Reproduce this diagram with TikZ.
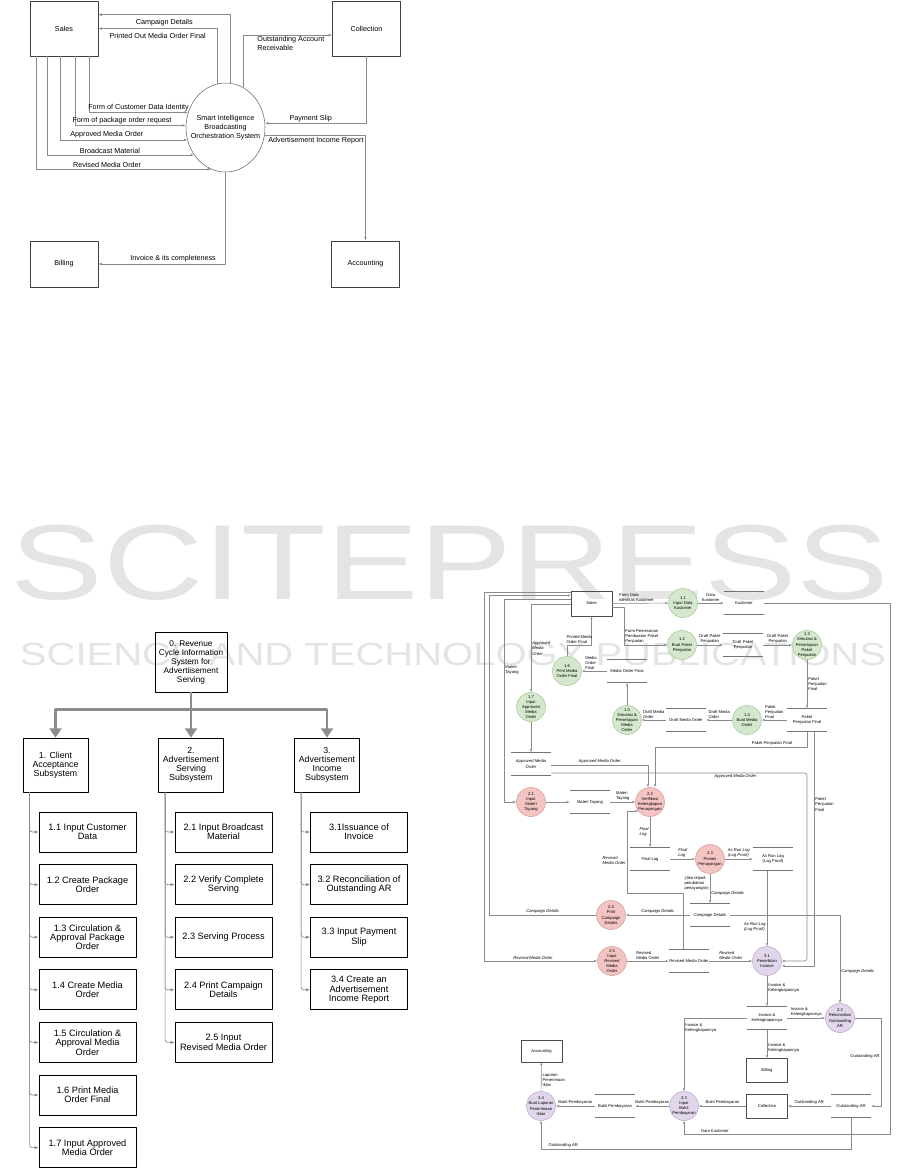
\documentclass[tikz,border=0pt]{standalone}
\usepackage{fontspec}
\setmainfont{Liberation Sans}
\usetikzlibrary{arrows.meta,calc,shapes.geometric}

\definecolor{lngray}{HTML}{8A8A8A}
\definecolor{arrgray}{HTML}{8C8C8C}
\definecolor{grnfill}{HTML}{D3E8CC}
\definecolor{grnline}{HTML}{A6C79B}
\definecolor{redfill}{HTML}{F4C4C2}
\definecolor{redline}{HTML}{D39C99}
\definecolor{purfill}{HTML}{E1D6EC}
\definecolor{purline}{HTML}{B8A8CB}
\definecolor{wmgray}{HTML}{E4E4E4}

\newcommand{\ctxfont}{\fontsize{5.4}{6.75}\selectfont}
\newcommand{\dfdfont}{\fontsize{3.1}{3.9}\selectfont}
\newcommand{\dfdit}{\fontsize{3.1}{3.9}\selectfont\itshape}

\tikzset{
  ctxbox/.style={draw=black!75, line width=0.5pt, minimum width=51pt, minimum height=41.25pt, font=\ctxfont},
  sysell/.style={ellipse, draw=black!60, line width=0.4pt, minimum width=59.25pt, minimum height=66.75pt, inner sep=0pt},
  ctxflow/.style={draw=lngray, line width=0.5pt, -{Latex[length=2.6pt,width=2pt]}},
  clbl/.style={font=\ctxfont, inner sep=1pt},
  hroot/.style={draw, line width=0.6pt, minimum width=54pt, minimum height=45pt, align=center, inner sep=1pt, font=\fontsize{6.2}{6.75}\selectfont},
  hsub/.style={draw, line width=0.6pt, minimum width=48.75pt, minimum height=40.5pt, align=center, inner sep=1pt, font=\fontsize{6.6}{6.9}\selectfont},
  hleaf/.style={draw, line width=0.6pt, minimum width=72.75pt, minimum height=30pt, align=center, inner sep=1pt, font=\fontsize{6.9}{7}\selectfont},
  bigarr/.style={draw=arrgray, line width=2.2pt, -{Triangle[length=7pt,width=9pt]}},
  branch/.style={draw=lngray, line width=0.5pt, rounded corners=2pt, -{Latex[length=3pt,width=2.4pt]}},
  proc1/.style={circle, draw=grnline, fill=grnfill, line width=0.4pt, minimum size=21.75pt, inner sep=0pt},
  proc2/.style={proc1, draw=redline, fill=redfill},
  proc3/.style={proc1, draw=purline, fill=purfill},
  ptxt/.style={font=\dfdfont, align=center, inner sep=0pt},
  store/.style={minimum width=30pt, minimum height=17.25pt, inner sep=0pt, font=\dfdfont, align=center},
  storeln/.style={draw=black!55, line width=0.45pt},
  dent/.style={draw=black!70, line width=0.45pt, minimum width=30.75pt, minimum height=18pt, inner sep=0pt, font=\dfdfont},
  dflow/.style={draw=lngray, line width=0.45pt, -{Latex[length=2.2pt,width=1.8pt]}},
  dlbl/.style={font=\dfdfont, inner sep=0.8pt, align=center},
  wm/.style={text=wmgray, inner sep=0pt}
}

\begin{document}
\begin{tikzpicture}[x=0.75pt,y=-0.75pt,line join=bevel]
\useasboundingbox (0,0) rectangle (901,1168);
%% watermark
\node[wm, font=\fontsize{80}{80}\selectfont, xscale=1.3] (wmtitle) at (450,563) {SCITEPRESS};
\node[wm, font=\fontsize{24}{24}\selectfont, xscale=1.25] (wmsub) at (453,654) {SCIENCE AND TECHNOLOGY PUBLICATIONS};
%%
%% context diagram
  % Node: sales
  \node[ctxbox] (sales) at (64,28.5) {Sales};
  % Node: coll
  \node[ctxbox] (coll) at (366.5,28.5) {Collection};
  % Node: bill
  \node[ctxbox, minimum height=34.5pt] (bill) at (64,264) {Billing};
  % Node: acct
  \node[ctxbox, minimum height=34.5pt] (acct) at (365.5,264) {Accounting};
  % Node: sys
  \node[sysell, label={[clbl, align=center]center:{Smart Intelligence\\Broadcasting\\Orchestration System}}] (sys) at (225.5,127.5) {};
  % Edge: sys -> sales
  \draw[ctxflow] (sys.84.2) |- node[clbl, pos=0.75, below, yshift=-2pt] {Campaign Details} ($(sales.north east)+(0,14)$);
  \draw[ctxflow] (sys.101.1) |- node[clbl, pos=0.75, below, yshift=-2pt] {Printed Out Media Order Final} (sales.east);
  % Edge: sys -> coll
  \draw[ctxflow] (sys.66.3) |- node[clbl, pos=0.57, anchor=north west, align=left] {Outstanding Account\\Receivable} ($(coll.west)+(0,6.5)$);
  % Edge: coll -> sys
  \draw[ctxflow] (coll.south) |- node[clbl, pos=0.775, above] {Payment Slip} (sys.6.5);
  % Edge: sys -> acct
  \draw[ctxflow] (sys.349.1) -| node[clbl, pos=0.01, anchor=north west] {Advertisement Income Report} (acct.north);
  % Edge: sys -> bill
  \draw[ctxflow] (sys.south) |- node[clbl, pos=0.706, above] {Invoice \& its completeness} (bill.east);
  % Edge: sales -> sys
  \draw[ctxflow] ($(sales.south)+(25,0)$) |- node[clbl, pos=0.75, above] {Form of Customer Data Identity} (sys.158.8);
  \draw[ctxflow] ($(sales.south)+(11,0)$) |- node[clbl, pos=0.712, above] {Form of package order request} (sys.177.8);
  \draw[ctxflow] ($(sales.south)+(-4,0)$) |- node[clbl, pos=0.684, above] {Approved Media Order} (sys.198.3);
  \draw[ctxflow] ($(sales.south)+(-17,0)$) |- node[clbl, pos=0.714, above] {Broadcast Material} (sys.221.5);
  \draw[ctxflow] ($(sales.south)+(-28,0)$) |- node[clbl, pos=0.703, above] {Revised Media Order} (sys.251);
%%
%% hierarchy chart
  % Node: root
  \node[hroot] (root) at (191,662) {0. Revenue\\Cycle Information\\System for\\Advertiisement\\Serving};
  % Node: s1, s2, s3
  \node[hsub] (s1) at (55.5,765) {1. Client\\Acceptance\\Subsystem};
  \node[hsub] (s2) at (191,765) {2.\\Advertisement\\Serving\\Subsystem};
  \node[hsub] (s3) at (327,765) {3.\\Advertisement\\Income\\Subsystem};
  % Edge: root -> s1, s2, s3
  \draw[bigarr] (root.south) -- ++(0,17) -| (s1.north);
  \draw[bigarr] (root.south) -- (s2.north);
  \draw[bigarr] (root.south) -- ++(0,17) -| (s3.north);
  % Node: leaves of s1
  \node[hleaf] (l11) at (87.5,832) {1.1 Input Customer\\Data};
  \node[hleaf] (l12) at (87.5,884.6) {1.2 Create Package\\Order};
  \node[hleaf] (l13) at (87.5,937.2) {1.3 Circulation \&\\Approval Package\\Order};
  \node[hleaf] (l14) at (87.5,989.8) {1.4 Create Media\\Order};
  \node[hleaf] (l15) at (87.5,1042.4) {1.5 Circulation \&\\Approval Media\\Order};
  \node[hleaf] (l16) at (87.5,1095) {1.6 Print Media\\Order Final};
  \node[hleaf] (l17) at (87.5,1147.6) {1.7 Input Approved\\Media Order};
  % Node: leaves of s2
  \node[hleaf] (l21) at (223.5,832) {2.1 Input Broadcast\\Material};
  \node[hleaf] (l22) at (223.5,884.6) {2.2 Verify Complete\\Serving};
  \node[hleaf] (l23) at (223.5,937.2) {2.3 Serving Process};
  \node[hleaf] (l24) at (223.5,989.8) {2.4 Print Campaign\\Details};
  \node[hleaf] (l25) at (223.5,1042.4) {2.5 Input\\Revised Media Order};
  % Node: leaves of s3
  \node[hleaf] (l31) at (359,832) {3.1Issuance of\\Invoice};
  \node[hleaf] (l32) at (359,884.6) {3.2 Reconciliation of\\Outstanding AR};
  \node[hleaf] (l33) at (359,937.2) {3.3 Input Payment\\Slip};
  \node[hleaf] (l34) at (359,989.8) {3.4 Create an\\Advertisement\\Income Report};
  % Edge: s -> leaves
  \foreach \k in {1,...,7} \draw[branch] ($(s1.south west)+(7,0)$) |- (l1\k.west);
  \foreach \k in {1,...,5} \draw[branch] ($(s2.south west)+(7,0)$) |- (l2\k.west);
  \foreach \k in {1,...,4} \draw[branch] ($(s3.south west)+(7,0)$) |- (l3\k.west);
%%
%% data flow diagram
  % Node: external entities
  \node[dent, minimum height=18.75pt] (dsales) at (591.5,603.5) {Sales};
  \node[dent, minimum height=16.5pt] (dacc) at (541.5,1051) {Accounting};
  \node[dent] (dbill) at (767,1070.5) {Billing};
  \node[dent] (dcoll) at (767,1106) {Collection};
  % Node: processes 1.x
  \node[proc1, label={[ptxt]center:{1.1\\Input Data\\Kustomer}}] (p11) at (683,603) {};
  \node[proc1, label={[ptxt]center:{1.2\\Buat Paket\\Penjualan}}] (p12) at (682,645) {};
  \node[proc1, label={[ptxt]center:{1.3\\Simulasi \&\\Persetujuan\\Paket\\Penjualan}}] (p13) at (807,645) {};
  \node[proc1, label={[ptxt]center:{1.4\\Buat Media\\Order}}] (p14) at (747,720) {};
  \node[proc1, label={[ptxt]center:{1.5\\Simulasi \&\\Persetujuan\\Media\\Order}}] (p15) at (627,720) {};
  \node[proc1, label={[ptxt]center:{1.6\\Print Media\\Order Final}}] (p16) at (567,671) {};
  \node[proc1, label={[ptxt]center:{1.7\\Input\\Approved\\Media\\Order}}] (p17) at (531,707) {};
  % Node: processes 2.x
  \node[proc2, label={[ptxt]center:{2.1\\Input\\Materi\\Tayang}}] (p21) at (531,802) {};
  \node[proc2, label={[ptxt]center:{2.2\\Verifikasi\\Kelengkapan\\Penayangan}}] (p22) at (650,802) {};
  \node[proc2, label={[ptxt]center:{2.3\\Proses\\Penayangan}}] (p23) at (710,859) {};
  \node[proc2, label={[ptxt]center:{2.4\\Print\\Campaign\\Details}}] (p24) at (611,915) {};
  \node[proc2, label={[ptxt]center:{2.5\\Input\\\textit{Revised}\\Media\\Order}}] (p25) at (612,961) {};
  % Node: processes 3.x
  \node[proc3, label={[ptxt]center:{3.1\\Penerbitan\\Invoice}}] (p31) at (767,961) {};
  \node[proc3, label={[ptxt]center:{3.2\\Rekonsiliasi\\Outstanding\\AR}}] (p32) at (840,1018) {};
  \node[proc3, label={[ptxt]center:{3.3\\Input\\Bukti\\Pembayaran}}] (p33) at (684,1106) {};
  \node[proc3, label={[ptxt]center:{3.4\\Buat Laporan\\Penerimaan\\Iklan}}] (p34) at (541,1106) {};
  % Node: data stores
  \node[store] (kust) at (744,603) {Kustomer};
  \node[store] (dpp) at (743,645) {Draft Paket\\Penjualan};
  \node[store] (ppf) at (807,720) {Paket\\Penjualan Final};
  \node[store] (dmo) at (686,720) {Draft Media Order};
  \node[store] (mof) at (627,671) {Media Order Final};
  \node[store, font=\dfdit] (amo) at (531,764) {Approved Media\\Order};
  \node[store] (mt) at (590,802) {Materi Tayang};
  \node[store] (fl) at (650,859) {Final Log};
  \node[store] (arl) at (773,859) {As Run Log\\(Log Proof)};
  \node[store, font=\dfdit] (cd) at (710,915) {Campaign Details};
  \node[store] (rmo) at (689,961) {Revised Media Order};
  \node[store] (ik) at (767,1018) {Invoice \&\\Kelengkapannya};
  \node[store] (oar) at (851,1106) {Outstanding AR};
  \node[store] (bp) at (615,1106) {Bukti Pembayaran};
  \foreach \s in {kust,dpp,ppf,dmo,mof,amo,mt,fl,arl,cd,rmo,ik,oar,bp}
    \draw[storeln] (\s.north west) -- (\s.north east) (\s.south west) -- (\s.south east);
  % Edge: dsales -> p11
  \draw[dflow] (dsales) -- node[dlbl, pos=0.1, anchor=south west, align=left] {Form Data\\Identitas Kustomer} (p11);
  % Edge: dsales -> p12
  \draw[dflow] ($(dsales.east)+(0,4)$) -- (624,607.5) |- node[dlbl, pos=0.5, anchor=south west, align=left] {Form Pemesanan\\Pembuatan Paket\\Penjualan} (p12);
  % Edge: p11 -> kust
  \draw[dflow] (p11) -- node[dlbl, above] {Data\\Kustomer} (kust);
  % Edge: p12 -> dpp -> p13
  \draw[dflow] (p12) -- node[dlbl, above] {Draft Paket\\Penjualan} (dpp);
  \draw[dflow] (dpp) -- node[dlbl, above] {Draft Paket\\Penjualan} (p13);
  % Edge: p13 -> ppf -> p14
  \draw[dflow] (p13) -- node[dlbl, right, align=left] {Paket\\Penjualan\\Final} (ppf);
  \draw[dflow] (ppf) -- node[dlbl, above, align=left] {Paket\\Penjualan\\Final} (p14);
  % Edge: p14 -> dmo -> p15
  \draw[dflow] (p14) -- node[dlbl, above, align=left] {Draft Media\\Order} (dmo);
  \draw[dflow] (dmo) -- node[dlbl, above, align=left] {Draft Media\\Order} (p15);
  % Edge: p15 -> mof -> p16
  \draw[dflow] (p15) -- (mof);
  \draw[dflow] (mof) -- node[dlbl, pos=0.63, above, align=left] {Media\\Order\\Final} (p16);
  % Edge: p16 -> dsales
  \draw[dflow] (p16) -- (567,645) -| node[dlbl, pos=0.25, above, align=left] {Printed Media\\Order Final} (dsales.south);
  % Edge: dsales -> p17 -> amo
  \draw[dflow] ($(dsales.west)+(0,1)$) -| node[dlbl, pos=0.75, right, align=left, font=\dfdit] {Approved\\Media\\Order} (p17);
  \draw[dflow] (p17) -- (amo);
  % Edge: amo -> p22
  \draw[dflow] ($(amo.east)+(0,1)$) -| node[dlbl, pos=0.25, above, font=\dfdit] {Approved Media Order} ($(p22.north)+(-2,0)$);
  % Edge: amo -> p31
  \draw[dflow, rounded corners=2pt] ($(amo.east)+(0,9)$) -- node[dlbl, pos=0.72, below, font=\dfdit] {Approved Media Order} (807,773) -- (807,961) -- (p31.east);
  % Edge: ppf -> p22
  \draw[dflow] (ppf.south) |- node[dlbl, pos=0.615, above] {Paket Penjualan Final} (655,747) -- ($(p22.north)+(5,0)$);
  % Edge: ppf -> p31
  \draw[dflow] ($(ppf.south)+(7,0)$) -- node[dlbl, pos=0.31, right, align=left] {Paket\\Penjualan\\Final} (814,966) -- ($(p31.east)+(0,5)$);
  % Edge: dsales -> p21 -> mt -> p22
  \draw[dflow] ($(dsales.west)+(0,-4)$) -- (504,599.5) |- node[dlbl, pos=0.174, right, align=left] {Materi\\Tayang} (p21);
  \draw[dflow] (p21) -- (mt);
  \draw[dflow] (mt) -- node[dlbl, above, align=left] {Materi\\Tayang} (p22);
  % Edge: p22 -> fl -> p23
  \draw[dflow] (p22) -- node[dlbl, left, align=left, font=\dfdit] {Final\\Log} (fl);
  \draw[dflow] (fl) -- node[dlbl, above, align=left, font=\dfdit] {Final\\Log} (p23);
  % Edge: p23 -> arl -> p31
  \draw[dflow] (p23) -- node[dlbl, above, align=left, font=\dfdit] {As Run Log\\(Log Proof)} (arl);
  \draw[dflow] ($(arl.south)+(-6,0)$) -- node[dlbl, pos=0.74, left, align=left, font=\dfdit] {As Run Log\\(Log Proof)} (p31);
  % Edge: p23 -> cd
  \draw[dflow] (p23) -- node[dlbl, pos=0.65, right, font=\dfdit] {Campaign Details} node[dlbl, pos=0.32, left, align=left] {(Jika terjadi\\perubahan\\penayangan)} (cd);
  % Edge: cd -> p24 -> dsales
  \draw[dflow] (cd) -- node[dlbl, above, font=\dfdit] {Campaign Details} (p24);
  \draw[dflow] (p24) -- node[dlbl, above, font=\dfdit] {Campaign Details} (489,915) |- ($(dsales.west)+(0,-8)$);
  % Edge: cd -> p32
  \draw[dflow] (cd) -| node[dlbl, pos=0.82, right, font=\dfdit] {Campaign Details} (p32);
  % Edge: dsales -> p25 -> rmo -> p31
  \draw[dflow] ($(dsales.west)+(0,-11)$) -- (484,592.5) |- node[dlbl, pos=0.716, above, font=\dfdit] {Revised Media Order} (p25);
  \draw[dflow] (p25) -- node[dlbl, above, align=left] {Revised\\Media Order} (rmo);
  \draw[dflow] (rmo) -- node[dlbl, above, align=left, font=\dfdit] {Revised\\Media Order} (p31);
  % Edge: rmo -> p22
  \draw[dflow] ($(rmo.north)+(-6,0)$) |- (627,893) |- node[dlbl, pos=0.2, left, align=left, font=\dfdit] {Revised\\Media Order} (p22.218);
  % Edge: p31 -> ik
  \draw[dflow] (p31) -- node[dlbl, pos=0.4, right, align=left] {Invoice \&\\Kelengkapannya} (ik);
  % Edge: ik -> p32, dbill, p33
  \draw[dflow] (ik) -- node[dlbl, above, align=left] {Invoice \&\\Kelengkapannya} (p32);
  \draw[dflow] (ik) -- node[dlbl, pos=0.63, right, align=left] {Invoice \&\\Kelengkapannya} (dbill);
  \draw[dflow] (ik) -| node[dlbl, pos=0.57, right, align=left] {Invoice \&\\Kelengkapannya} (p33);
  % Edge: p32 -> oar -> dcoll -> p33
  \draw[dflow] (p32) -- (881,1018) |- node[dlbl, pos=0.22, left] {Outstanding AR} (oar);
  \draw[dflow] (oar) -- node[dlbl, above] {Outstanding AR} (dcoll);
  \draw[dflow] (dcoll) -- node[dlbl, above] {Bukti Pembayaran} (p33);
  % Edge: p33 -> bp -> p34 -> dacc
  \draw[dflow] (p33) -- node[dlbl, above] {Bukti Pembayaran} (bp);
  \draw[dflow] (bp) -- node[dlbl, above] {Bukti Pembayaran} (p34);
  \draw[dflow] (p34) -- node[dlbl, pos=0.39, right, align=left] {Laporan\\Penerimaan\\Iklan} (dacc);
  % Edge: oar -> p34
  \draw[dflow] (oar.south) -- (851,1149) -| node[dlbl, pos=0.49, anchor=south west] {Outstanding AR} (p34);
  % Edge: kust -> p33
  \draw[dflow] (kust) -- (890,603) |- node[dlbl, pos=0.925, above] {Data Kustomer} (684,1134) -- (p33);
%
\end{tikzpicture}
\end{document}
